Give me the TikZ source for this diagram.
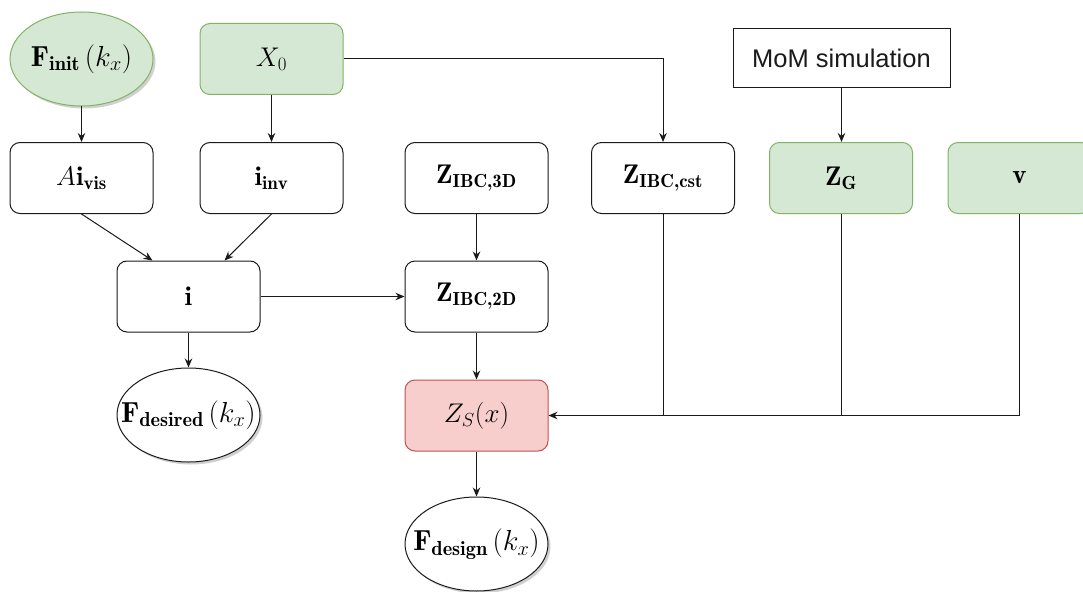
\RequirePackage{fix-cm}
\documentclass[tikz,border=0pt]{standalone}
\usepackage{fontspec}
\newfontfamily\mysans{Liberation Sans}
\usetikzlibrary{arrows.meta,shadows,calc,shapes.geometric}
\definecolor{gfill}{HTML}{D5E8D4}
\definecolor{gline}{HTML}{82B366}
\definecolor{rfill}{HTML}{F8CECC}
\definecolor{rline}{HTML}{B85450}
\definecolor{ink}{HTML}{1A1A1A}
\newcommand{\bcomma}{\mathchar"702C\relax}
\begin{document}
\begin{tikzpicture}[x=1pt,y=-1pt,
  mfont/.style={font=\fontsize{27}{32}\selectfont},
  ffont/.style={font=\fontsize{29}{34}\selectfont},
  box/.style={draw=ink, line width=1pt, rounded corners=10pt, minimum width=143pt, minimum height=71pt, inner sep=0pt, fill=white, mfont},
  gbox/.style={box, draw=gline, fill=gfill},
  rbox/.style={box, draw=rline, fill=rfill},
  ell/.style={ellipse, draw=ink, line width=1pt, fill=white, minimum width=143pt, minimum height=94pt, inner sep=0pt,
    drop shadow={shadow xshift=2.5pt, shadow yshift=-2.5pt, opacity=0.3, fill=black!60}},
  lbl/.style={inner sep=0pt, ffont},
  arr/.style={-{Stealth[length=9pt,width=7.5pt]}, line width=1pt, draw=ink},
  plain/.style={line width=1pt, draw=ink}]
\fill[white] (0,0) rectangle (1083,591);
\useasboundingbox (0,0) rectangle (1083,591);

% top row
\node[ell, fill=gfill, draw=gline] (finit) at (81.5,59) {};
\node[lbl] (finit-t) at (finit) {$\mathbf{F}_{\mathbf{init}}\,(k_x)$};
\node[gbox] (x0) at (271.5,59) {$X_0$};
\node[draw=ink, line width=1pt, fill=white, minimum width=217pt, minimum height=59pt, inner sep=0pt,
      font=\mysans\fontsize{25.5}{30}\selectfont, text=ink] (mom) at (841.5,58.5) {MoM simulation};

% second row
\node[box] (avis) at (81.5,178) {$A\mathbf{i}_{\mathbf{vis}}$};
\node[box] (iinv) at (271.5,178) {$\mathbf{i}_{\mathbf{inv}}$};
\node[box] (z3d) at (476.5,178) {$\mathbf{Z}_{\mathbf{IBC\bcomma 3D}}$};
\node[box] (zcst) at (663,178) {$\mathbf{Z}_{\mathbf{IBC\bcomma cst}}$};
\node[gbox] (zg) at (841,178) {$\mathbf{Z}_{\mathbf{G}}$};
\node[gbox] (v) at (1019.5,178) {$\mathbf{v}$};

% third row
\node[box] (i) at (188.5,296.5) {$\mathbf{i}$};
\node[box] (z2d) at (476.5,296.5) {$\mathbf{Z}_{\mathbf{IBC\bcomma 2D}}$};

% fourth row
\node[ell] (fdes) at (188.5,415) {};
\node[lbl] (fdes-t) at (fdes) {$\mathbf{F}_{\mathbf{desired}}\,(k_x)$};
\node[rbox] (zs) at (476.5,415.5) {$Z_S(x)$};

% bottom
\node[ell] (fdesign) at (476.5,544) {};
\node[lbl] (fdesign-t) at (fdesign) {$\mathbf{F}_{\mathbf{design}}\,(k_x)$};

% connectors
\draw[arr] (finit) -- (avis);
\draw[arr] (x0) -- (iinv);
\draw[arr] (x0.east) -| (zcst.north);
\draw[arr] (mom.south) -- (mom.south |- zg.north);
\draw[arr] (avis.south) -- ($(i.north west)!0.25!(i.north east)$);
\draw[arr] (iinv.south) -- ($(i.north west)!0.75!(i.north east)$);
\draw[arr] (i) -- (z2d);
\draw[arr] (z3d) -- (z2d);
\draw[arr] (i) -- (fdes);
\draw[arr] (z2d) -- (zs);
\draw[arr] (zs) -- (fdesign);
\draw[plain] (zcst.south) |- (zs.east);
\draw[plain] (zg.south) |- (zs.east);
\draw[arr] (v.south) |- (zs.east);
\end{tikzpicture}
\end{document}
